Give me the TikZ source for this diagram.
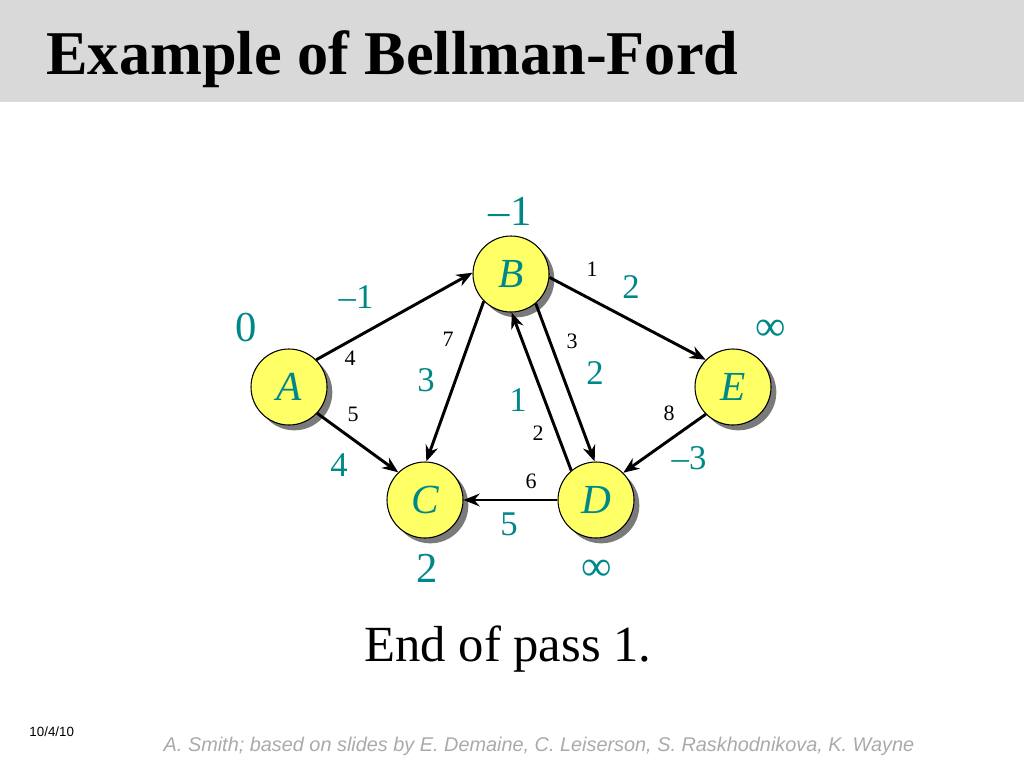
\documentclass[tikz,border=0pt]{standalone}
\usepackage{fontspec}
\setmainfont{Liberation Serif}
\setsansfont{Liberation Sans}
\usetikzlibrary{arrows.meta,shadows}

\definecolor{bandgray}{RGB}{217,217,217}
\definecolor{vertexyellow}{RGB}{255,255,102}
\definecolor{distteal}{RGB}{0,136,136}
\definecolor{footgray}{RGB}{170,170,170}

\tikzset{
    vertex/.style={draw, circle, line width=0.8pt, fill=vertexyellow,
        minimum size=57pt, inner sep=0pt, text=distteal,
        font=\fontsize{31}{31}\selectfont\itshape,
        drop shadow={shadow xshift=4pt, shadow yshift=-4pt,
            fill=black!80, opacity=.65}},
    dist/.style={text=distteal, inner sep=0pt,
        font=\fontsize{32}{32}\selectfont},
    weight/.style={text=distteal, inner sep=0pt,
        font=\fontsize{26}{26}\selectfont},
    order/.style={inner sep=0pt, font=\fontsize{16.5}{16.5}\selectfont}
}

\begin{document}
\begin{tikzpicture}[
            x=0.75pt, y=-0.75pt, % one unit = one pixel of the slide
            -{Stealth[length=12pt, width=9.5pt]}, % arrow head style
            line width=2.2pt % line style
            ]
            \useasboundingbox (0,0) rectangle (1024,768);
            \fill[bandgray] (0,0) rectangle (1024,102);
            \node[anchor=base west, inner sep=0pt,
            font=\fontsize{46.7}{46.7}\selectfont\bfseries] (title) at (45,74) {Example of Bellman-Ford};

            % vertices
            \node[vertex] (A) at (289,387) {A};
            \node[vertex] (B) at (511,274) {B};
            \node[vertex] (C) at (425,500) {C};
            \node[vertex] (D) at (596,500) {D};
            \node[vertex] (E) at (733,387) {E};

            % distances after the pass
            \node[dist] (dA) at (246,328) {0};
            \node[dist] (dB) at (510,211) {--1};
            \node[dist] (dC) at (427,568) {2};
            \node[dist] (dD) at (597,570) {∞};
            \node[dist] (dE) at (771,330) {∞};

            % edges
            \path (A.45) edge (B.178);
            \path (A.-43) edge (C.134);
            \path (B.-135) edge (C.88);
            \path (B.-50) edge (D.92);
            \path (D.130) edge (B.-89);
            \path (B.-5) edge (E.135);
            \path (E.-135) edge (D.45);
            \path (D.180) edge (C.0);

            % edge weights
            \node[weight] (wAB) at (356,297) {--1};
            \node[weight] (wAC) at (339,465) {4};
            \node[weight] (wBC) at (426,380) {3};
            \node[weight] (wDB) at (518,400) {1};
            \node[weight] (wBD) at (595,373) {2};
            \node[weight] (wBE) at (631,287) {2};
            \node[weight] (wED) at (689,458) {--3};
            \node[weight] (wDC) at (509,524) {5};

            % order in which the edges are relaxed
            \node[order] (oBE) at (592,269) {1};
            \node[order] (oAB) at (350,358) {4};
            \node[order] (oBC) at (448,339) {7};
            \node[order] (oBD) at (572,341) {3};
            \node[order] (oAC) at (353,414) {5};
            \node[order] (oDB) at (538,433) {2};
            \node[order] (oED) at (669,413) {8};
            \node[order] (oDC) at (531,481) {6};

            \node[anchor=base, inner sep=0pt,
            font=\fontsize{38}{38}\selectfont] (pass) at (508,661) {End of pass 1.};
            \node[anchor=base west, inner sep=0pt,
            font=\sffamily\fontsize{10}{10}\selectfont] (date) at (28,736) {10/4/10};
            \node[anchor=base, inner sep=0pt, text=footgray,
            font=\sffamily\itshape\fontsize{14.9}{14.9}\selectfont] (credit) at (539,751) {A. Smith; based on slides by E. Demaine, C. Leiserson, S. Raskhodnikova, K. Wayne};
        \end{tikzpicture}
\end{document}
